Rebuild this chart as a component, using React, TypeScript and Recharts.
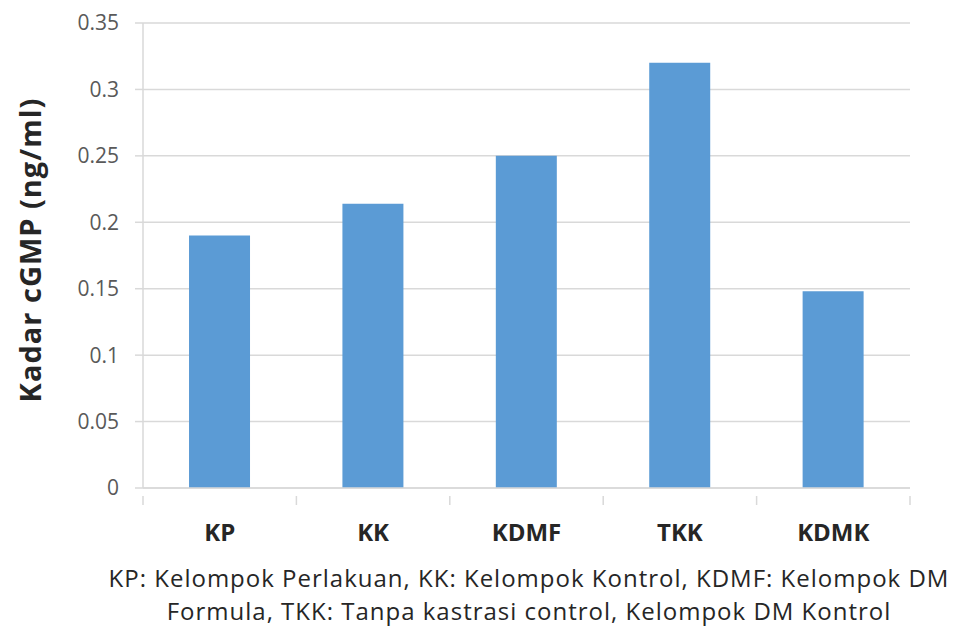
import React from "react";
import { BarChart, Bar, XAxis, YAxis, CartesianGrid } from "recharts";

const categories = ["KP", "KK", "KDMF", "TKK", "KDMK"];
const cgmpValues = [0.19, 0.214, 0.25, 0.32, 0.148];
const yTicks = [0, 0.05, 0.1, 0.15, 0.2, 0.25, 0.3, 0.35];
const yTickLabels = ["0", "0.05", "0.1", "0.15", "0.2", "0.25", "0.3", "0.35"];
const captionLines = [
  "KP: Kelompok Perlakuan, KK: Kelompok Kontrol, KDMF: Kelompok DM",
  "Formula, TKK: Tanpa kastrasi control, Kelompok DM Kontrol",
];

const data = categories.map((c, i) => ({ name: c, value: cgmpValues[i] }));

const W = 968;
const H = 560;
const M = { top: 23, right: 58, bottom: 22, left: 0 };
const Y_W = 143;
const X_H = 50;
const plotW = W - M.left - M.right - Y_W;
const step = plotW / categories.length;
const FONT = "'Open Sans', sans-serif";

const XTick = (props: any) => {
  const { x, y, payload, index } = props;
  const left = x - step / 2;
  const right = x + step / 2;
  return (
    <g>
      <line x1={left} y1={y} x2={left} y2={y + 9} stroke="#D9D9D9" strokeWidth={1.5} />
      {index === categories.length - 1 && (
        <line x1={right} y1={y} x2={right} y2={y + 9} stroke="#D9D9D9" strokeWidth={1.5} />
      )}
      <text
        x={x}
        y={y + 39}
        textAnchor="middle"
        dominantBaseline="middle"
        fontFamily={FONT}
        fontWeight={700}
        fontSize={24}
        fill="#262626"
      >
        {payload.value}
      </text>
    </g>
  );
};

const YLabel = (props: any) => {
  const cy = 250;
  const cx = 29;
  return (
    <text
      x={cx}
      y={cy}
      transform={`rotate(-90 ${cx} ${cy})`}
      textAnchor="middle"
      dominantBaseline="central"
      fontFamily={FONT}
      fontWeight={700}
      fontSize={29}
      letterSpacing={1}
      fill="#262626"
    >
      Kadar cGMP (ng/ml)
    </text>
  );
};

export default function App() {
  return (
    <div style={{ position: "absolute", left: 0, top: 0, width: W, height: 635, background: "#fff" }}>
      <BarChart width={W} height={H} data={data} margin={M} barCategoryGap="30%">
        <CartesianGrid vertical={false} stroke="#D9D9D9" strokeWidth={1.5} />
        <XAxis
          dataKey="name"
          height={X_H}
          axisLine={{ stroke: "#D9D9D9", strokeWidth: 1.5 }}
          tickLine={false}
          tick={<XTick />}
          interval={0}
        />
        <YAxis
          width={Y_W}
          domain={[0, 0.35]}
          ticks={yTicks}
          tickFormatter={(v: number) => yTickLabels[yTicks.indexOf(v)] ?? String(v)}
          axisLine={{ stroke: "#D9D9D9", strokeWidth: 1.5 }}
          tickLine={{ stroke: "#D9D9D9", strokeWidth: 1.5 }}
          tickSize={8}
          tickMargin={16}
          tick={{ fontFamily: FONT, fontSize: 21, fill: "#595959" }}
          label={<YLabel />}
        />
        <Bar dataKey="value" fill="#5B9BD5" isAnimationActive={false} />
      </BarChart>
      <div
        style={{
          position: "absolute",
          left: 0,
          width: 1058,
          top: 561,
          textAlign: "center",
          fontFamily: FONT,
          fontSize: 24,
          lineHeight: "33px",
          color: "#262626",
          letterSpacing: "1px",
          whiteSpace: "nowrap",
        }}
      >
        {captionLines.map((l, i) => (
          <div key={i}>{l}</div>
        ))}
      </div>
    </div>
  );
}
